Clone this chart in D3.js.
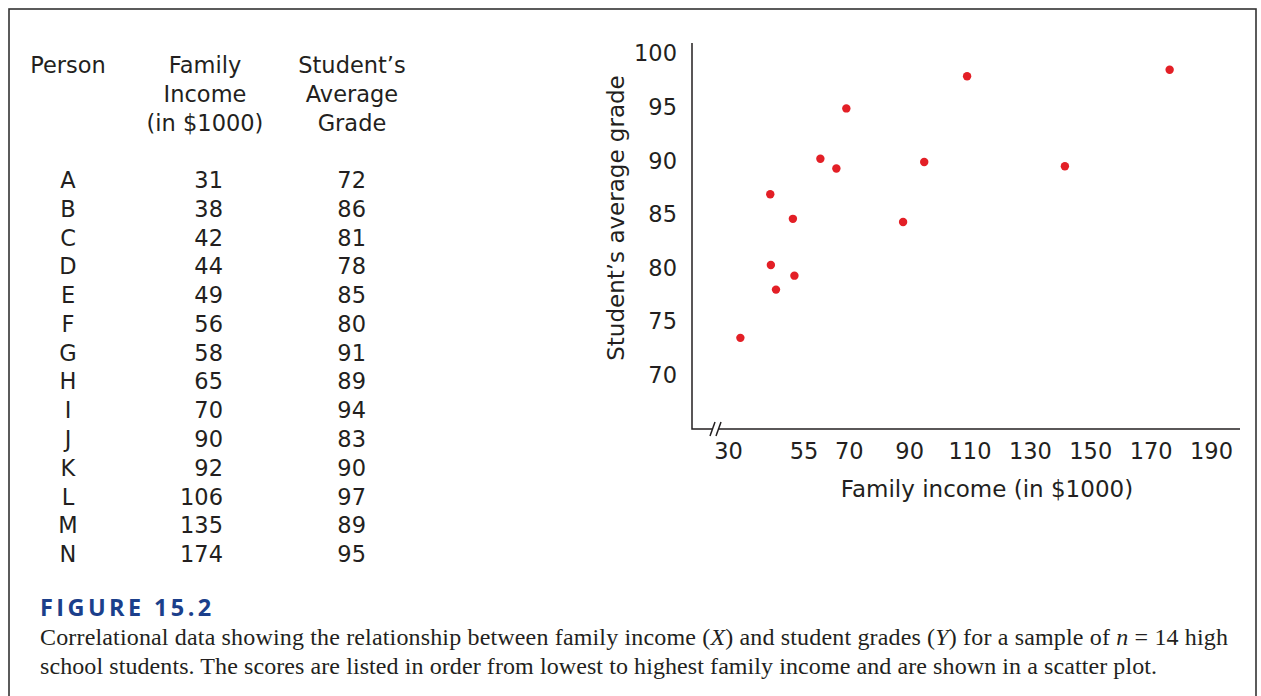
<!DOCTYPE html>
<html>
<head>
<meta charset="utf-8">
<script src="https://cdn.jsdelivr.net/npm/d3@7"></script>
<style>
  body { margin: 0; background: #fff; }
  svg { display: block; }
</style>
</head>
<body>
<div id="my_dataviz"></div>
<script>

// Table data (as printed on the left)
const persons = ["A", "B", "C", "D", "E", "F", "G", "H", "I", "J", "K", "L", "M", "N"];
const incomes = [31, 38, 42, 44, 49, 56, 58, 65, 70, 90, 92, 106, 135, 174];
const grades = [72, 86, 81, 78, 85, 80, 91, 89, 94, 83, 90, 97, 89, 95];

// Dots as they sit in the printed scatter plot
const plotIncome = [34.1, 44.0, 44.2, 45.9, 51.5, 52.0, 60.6, 65.9, 69.2, 88.0, 95.0, 109.2, 141.6, 176.3];
const plotGrade = [73.5, 86.9, 80.3, 78.0, 84.6, 79.3, 90.2, 89.3, 94.9, 84.3, 89.9, 97.9, 89.5, 98.5];

// Tick labels
const xTicks = [30, 55, 70, 90, 110, 130, 150, 170, 190];
const yTicks = [70, 75, 80, 85, 90, 95, 100];

// Column headers
const headPerson = ["Person"];
const headIncome = ["Family", "Income", "(in $1000)"];
const headGrade = ["Student’s", "Average", "Grade"];

const width = 1261, height = 696;
const sans = "'DejaVu Sans', sans-serif";
const fs = 22.5;

const svg = d3.select("#my_dataviz")
  .append("svg")
    .attr("width", width)
    .attr("height", height);

// Frame
svg.append("rect")
  .attr("x", 9).attr("y", 9)
  .attr("width", 1247).attr("height", 720)
  .attr("fill", "none")
  .attr("stroke", "#333")
  .attr("stroke-width", 1.6);

// ---------- Table ----------
const table = svg.append("g")
  .style("font-family", sans)
  .style("font-size", fs + "px")
  .attr("fill", "#231f20");

const headY = d3.scalePoint().domain([0, 1, 2]).range([65, 123]);

function header(lines, x) {
  table.append("g").selectAll("text")
    .data(lines)
    .join("text")
    .attr("x", x)
    .attr("y", (d, i) => headY(i))
    .attr("dy", "0.36em")
    .attr("text-anchor", "middle")
    .text(d => d);
}
header(headPerson, 68);
header(headIncome, 205);
header(headGrade, 352);

const rowY = d3.scalePoint().domain(persons).range([180, 554]);

table.append("g").selectAll("text")
  .data(persons)
  .join("text")
  .attr("x", 68)
  .attr("y", d => rowY(d))
  .attr("dy", "0.36em")
  .attr("text-anchor", "middle")
  .text(d => d);

table.append("g").selectAll("text")
  .data(incomes)
  .join("text")
  .attr("x", 223)
  .attr("y", (d, i) => rowY(persons[i]))
  .attr("dy", "0.36em")
  .attr("text-anchor", "end")
  .text(d => d);

table.append("g").selectAll("text")
  .data(grades)
  .join("text")
  .attr("x", 366)
  .attr("y", (d, i) => rowY(persons[i]))
  .attr("dy", "0.36em")
  .attr("text-anchor", "end")
  .text(d => d);

// ---------- Scatter plot ----------
const x = d3.scaleLinear()
  .domain([30, 190])
  .range([728, 1211]);

const y = d3.scaleLinear()
  .domain([65, 101])
  .range([429, 43]);

const x0 = 692, xEnd = 1240;

// Add Y axis
const yAxis = svg.append("g")
  .attr("transform", `translate(${x0}, 0)`)
  .call(d3.axisLeft(y).tickValues(yTicks).tickSize(0).tickPadding(15));
yAxis.select(".domain").remove();
yAxis.selectAll("text")
  .style("font-family", sans)
  .style("font-size", fs + "px")
  .attr("fill", "#231f20");

// Add X axis
const xAxis = svg.append("g")
  .attr("transform", `translate(0, ${y(65)})`)
  .call(d3.axisBottom(x).tickValues(xTicks).tickSize(0).tickPadding(14));
xAxis.select(".domain").remove();
xAxis.selectAll("text")
  .style("font-family", sans)
  .style("font-size", fs + "px")
  .attr("fill", "#231f20");

// Axis lines with the break marks
const axisLine = svg.append("g")
  .attr("stroke", "#231f20")
  .attr("stroke-width", 1.5)
  .attr("fill", "none");

axisLine.append("path")
  .attr("d", d3.line()([[x0, y(101)], [x0, y(65)], [712, y(65)]]));
axisLine.append("path")
  .attr("d", d3.line()([[719, y(65)], [xEnd, y(65)]]));
axisLine.selectAll(".brk")
  .data([712, 718])
  .join("path")
  .attr("class", "brk")
  .attr("d", d => d3.line()([[d - 2, y(65) + 7], [d + 3, y(65) - 7]]));

// Axis titles
svg.append("text")
  .attr("x", 987)
  .attr("y", 497)
  .attr("text-anchor", "middle")
  .style("font-family", sans)
  .style("font-size", "23px")
  .attr("fill", "#231f20")
  .text("Family income (in $1000)");

svg.append("text")
  .attr("transform", "translate(624, 218) rotate(-90)")
  .attr("text-anchor", "middle")
  .style("font-family", sans)
  .style("font-size", "23px")
  .attr("fill", "#231f20")
  .text("Student’s average grade");

// Add the points
svg.append("g")
  .selectAll("circle")
  .data(plotIncome)
  .join("circle")
  .attr("cx", d => x(d))
  .attr("cy", (d, i) => y(plotGrade[i]))
  .attr("r", 4.2)
  .attr("fill", "#e31f26");

// ---------- Caption ----------
svg.append("text")
  .attr("x", 40)
  .attr("y", 616)
  .style("font-family", "'Open Sans', 'DejaVu Sans', sans-serif")
  .style("font-weight", "bold")
  .style("font-size", "23.5px")
  .style("letter-spacing", "3.4px")
  .attr("fill", "#1b3f8b")
  .text("FIGURE 15.2");

const cap = svg.append("g")
  .style("font-family", "'Liberation Serif', 'Times New Roman', serif")
  .style("font-size", "24px")
  .attr("fill", "#231f20");

const line1 = cap.append("text").attr("x", 40).attr("y", 645)
  .attr("textLength", 1188).attr("lengthAdjust", "spacing");
line1.append("tspan").text("Correlational data showing the relationship between family income (");
line1.append("tspan").style("font-style", "italic").text("X");
line1.append("tspan").text(") and student grades (");
line1.append("tspan").style("font-style", "italic").text("Y");
line1.append("tspan").text(") for a sample of ");
line1.append("tspan").style("font-style", "italic").text("n");
line1.append("tspan").text(" = 14 high");

cap.append("text").attr("x", 40).attr("y", 674)
  .attr("textLength", 1117).attr("lengthAdjust", "spacing")
  .text("school students. The scores are listed in order from lowest to highest family income and are shown in a scatter plot.");

</script>
</body>
</html>
